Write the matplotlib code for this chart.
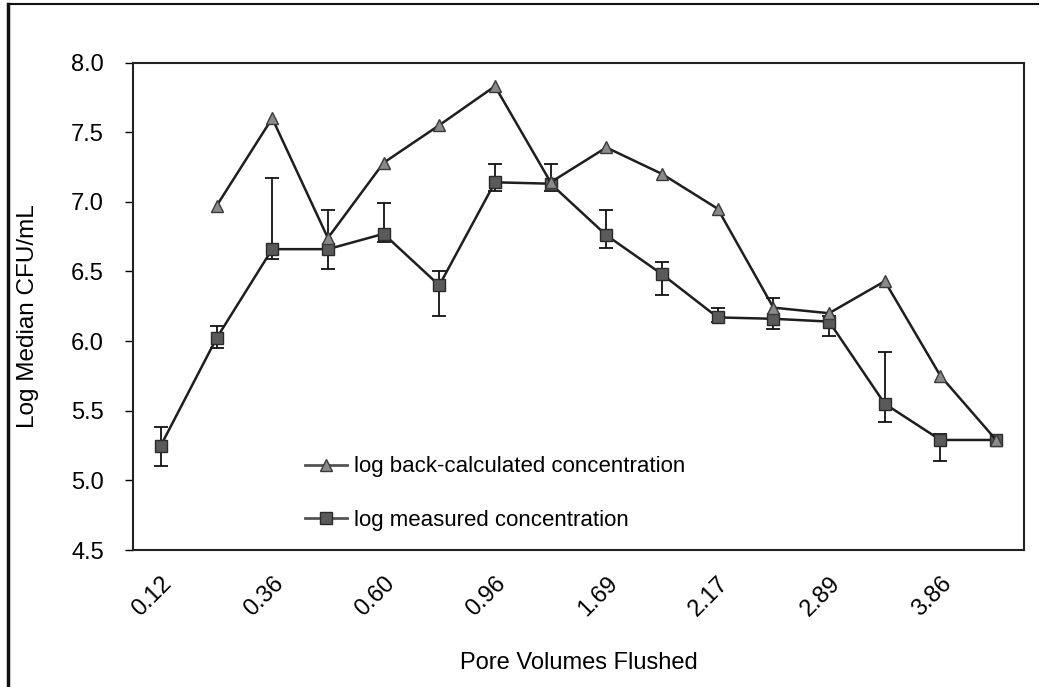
import numpy as np
import matplotlib
matplotlib.use("Agg")
import matplotlib.pyplot as plt
from matplotlib.lines import Line2D

plt.rcParams['font.family'] = ['Liberation Sans', 'DejaVu Sans']

# Sampling points along the flushing sequence (every other one is labelled)
n_points = 16
tick_labels = ['0.12', '0.36', '0.60', '0.96', '1.69', '2.17', '2.89', '3.86']

# log measured concentration (median) with asymmetric error bar limits
measured = [5.25, 6.02, 6.66, 6.66, 6.77, 6.40, 7.14, 7.13, 6.76, 6.48, 6.17, 6.16, 6.14, 5.55, 5.29, 5.29]
measured_hi = [5.38, 6.11, 7.17, 6.94, 6.99, 6.50, 7.27, 7.27, 6.94, 6.57, 6.24, 6.31, 6.18, 5.92, 5.33, 5.29]
measured_lo = [5.10, 5.95, 6.59, 6.52, 6.71, 6.18, 7.08, 7.08, 6.67, 6.33, 6.14, 6.09, 6.04, 5.42, 5.14, 5.29]

# log back-calculated concentration (no value at the first point)
back_calc = [np.nan, 6.97, 7.60, 6.74, 7.28, 7.55, 7.83, 7.14, 7.39, 7.20, 6.95, 6.24, 6.20, 6.43, 5.75, 5.29]

x = np.arange(n_points)
meas = np.array(measured)
err = np.vstack([meas - np.array(measured_lo), np.array(measured_hi) - meas])

fig = plt.figure(figsize=(10.63, 6.87), dpi=100)
ax = fig.add_axes([0.1251, 0.1994, 0.8382, 0.7096])

line_col = '#1e1e1e'

ax.errorbar(x, meas, yerr=err, fmt='none', ecolor='#111111', elinewidth=1.3,
            capsize=5, capthick=1.3, zorder=2)
ax.plot(x, meas, color=line_col, lw=1.8, marker='s', markersize=9,
        markerfacecolor='#5a5a5a', markeredgecolor='#2a2a2a', markeredgewidth=1.0, zorder=3)
ax.plot(x, back_calc, color=line_col, lw=1.8, marker='^', markersize=8,
        markerfacecolor='#8a8a8a', markeredgecolor='#3a3a3a', markeredgewidth=1.0, zorder=4)

ax.set_xlim(-0.5, n_points - 0.5)
ax.set_ylim(4.5, 8.0)
yt = np.arange(4.5, 8.01, 0.5)
ax.set_yticks(yt)
ax.set_yticklabels([f'{v:.1f}' for v in yt], fontsize=17)
ax.set_xticks(x[::2])
ax.set_xticklabels(tick_labels, fontsize=17, rotation=45, ha='right', rotation_mode='anchor')
ax.tick_params(axis='x', length=0, pad=16)
ax.tick_params(axis='y', length=6, width=1.0, direction='out', pad=15)

for side in ax.spines.values():
    side.set_linewidth(1.5)
    side.set_color('#222222')

ax.set_xlabel('Pore Volumes Flushed', fontsize=17, va='center')
ax.xaxis.set_label_coords(0.5, -0.232)
ax.set_ylabel('Log Median CFU/mL', fontsize=17.5, va='center')
ax.yaxis.set_label_coords(-0.118, 0.48)

handles = [
    Line2D([], [], color='#555555', lw=2.0, marker='^', markersize=8,
           markerfacecolor='#8a8a8a', markeredgecolor='#3a3a3a'),
    Line2D([], [], color='#555555', lw=2.0, marker='s', markersize=9,
           markerfacecolor='#5a5a5a', markeredgecolor='#2a2a2a'),
]
ax.legend(handles, ['log back-calculated concentration', 'log measured concentration'],
          loc='center left', bbox_to_anchor=(0.193, 0.116), frameon=False,
          fontsize=16, handlelength=1.9, handletextpad=0.3, labelspacing=1.45,
          borderpad=0, borderaxespad=0)

# page frame: left and top border
fig.add_artist(Line2D([8 / 1063, 8 / 1063], [0, 1 - 4 / 687], transform=fig.transFigure,
                      color='#111111', lw=2.5))
fig.add_artist(Line2D([8 / 1063, 1038 / 1063], [1 - 4 / 687, 1 - 4 / 687],
                      transform=fig.transFigure, color='#111111', lw=1.5))

fig.savefig('out.png', dpi=100)
